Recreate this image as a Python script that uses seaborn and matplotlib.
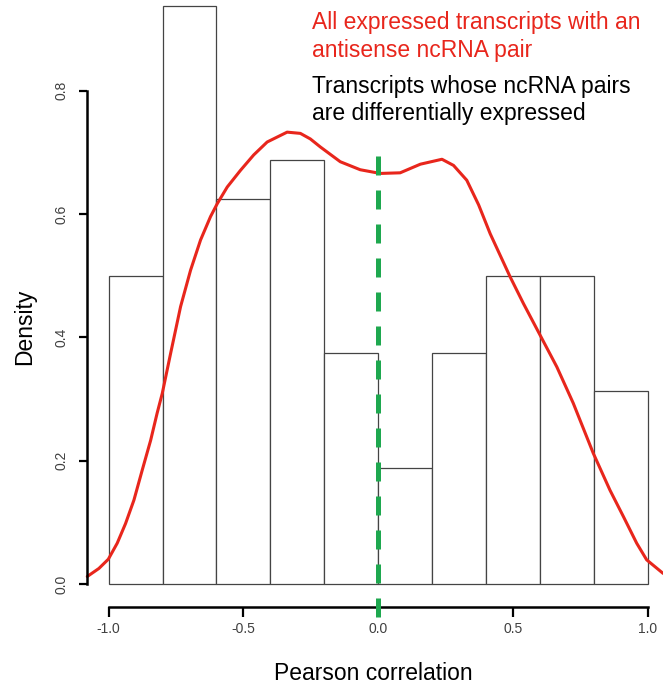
import matplotlib
matplotlib.use("Agg")
import matplotlib.pyplot as plt
import seaborn as sns
import numpy as np

# ---- data ----
bin_edges = [-1.0, -0.8, -0.6, -0.4, -0.2, 0.0, 0.2, 0.4, 0.6, 0.8, 1.0]
bar_density = [0.5, 0.9375, 0.625, 0.6875, 0.375, 0.1875, 0.375, 0.5, 0.5, 0.3125]

curve_x = [-1.079, -1.036, -1.001, -0.968, -0.937, -0.906, -0.875, -0.844, -0.820,
           -0.801, -0.770, -0.733, -0.696, -0.659, -0.622, -0.597, -0.560, -0.511,
           -0.462, -0.412, -0.338, -0.289, -0.252, -0.215, -0.141, -0.067, 0.007,
           0.081, 0.156, 0.236, 0.279, 0.328, 0.372, 0.415, 0.489, 0.538,
           0.597, 0.662, 0.723, 0.797, 0.859, 0.909, 0.958, 0.995, 1.056]
curve_y = [0.012, 0.025, 0.040, 0.066, 0.098, 0.136, 0.185, 0.233, 0.277,
           0.309, 0.374, 0.450, 0.509, 0.558, 0.596, 0.617, 0.644, 0.671,
           0.696, 0.717, 0.733, 0.731, 0.722, 0.709, 0.685, 0.672, 0.666,
           0.667, 0.681, 0.689, 0.679, 0.655, 0.615, 0.568, 0.498, 0.455,
           0.406, 0.352, 0.293, 0.212, 0.152, 0.109, 0.066, 0.039, 0.017]

ref_x = 0.0
ref_y = [-0.054, 0.704]

x_ticks = [-1.0, -0.5, 0.0, 0.5, 1.0]
y_ticks = [0.0, 0.2, 0.4, 0.6, 0.8]
legend_red = ["All expressed transcripts with an", "antisense ncRNA pair"]
legend_black = ["Transcripts whose ncRNA pairs", "are differentially expressed"]
x_label = "Pearson correlation"
y_label = "Density"

# ---- style ----
sns.set_style("white")
plt.rcParams["font.family"] = ["Liberation Sans", "DejaVu Sans"]
plt.rcParams["axes.unicode_minus"] = False

W, H = 663, 684
fig = plt.figure(figsize=(W / 100, H / 100), dpi=100)
ax = fig.add_axes([87 / W, 77 / H, 582.6 / W, 624 / H])

centers = [(bin_edges[i] + bin_edges[i + 1]) / 2 for i in range(len(bar_density))]
sns.histplot(x=centers, weights=bar_density, bins=bin_edges, stat="count",
             color="white", edgecolor="#444444", linewidth=0.9, alpha=1,
             ax=ax)

sns.lineplot(x=curve_x, y=curve_y, sort=False, color="#e8261c",
             linewidth=2.2, ax=ax, clip_on=False)
ax.lines[-1].set_solid_joinstyle("round")
ax.lines[-1].set_solid_capstyle("round")

ln, = ax.plot([ref_x, ref_x], ref_y, color="#1ea84f", linewidth=3.6,
              clip_on=False, zorder=5)
ln.set_dashes((3.8, 3.0))

ax.set_xlim(-1.08, 1.08)
ax.set_ylim(-0.0375, 0.975)

for s in ["top", "right"]:
    ax.spines[s].set_visible(False)
ax.spines["left"].set_bounds(0, 0.8)
ax.spines["bottom"].set_bounds(-1, 1)
for s in ["left", "bottom"]:
    ax.spines[s].set_color("black")
    ax.spines[s].set_linewidth(1.8)

ax.set_xticks(x_ticks)
ax.set_xticklabels([f"{v:.1f}" for v in x_ticks])
ax.set_yticks(y_ticks)
ax.set_yticklabels([f"{v:.1f}" for v in y_ticks], rotation=90, va="center")
ax.tick_params(axis="x", direction="out", length=7, width=1.6, color="black",
               labelsize=10, labelcolor="#404040", pad=4, bottom=True)
ax.tick_params(axis="y", direction="out", length=6, width=1.6, color="black",
               labelsize=10, labelcolor="#404040", pad=7, left=True)
ax.set_xlabel("")
ax.set_ylabel("")
ax.grid(False)

fig.text(373 / W, 1 - 674 / H, x_label, ha="center", va="center",
         fontsize=16.5, color="black")
fig.text(25 / W, 1 - 327 / H, y_label, ha="center", va="center",
         rotation=90, fontsize=16.5, color="black")

fig.text(312 / W, 1 - 29 / H, legend_red[0], ha="left", va="baseline",
         fontsize=16.5, color="#e8261c")
fig.text(312 / W, 1 - 57 / H, legend_red[1], ha="left", va="baseline",
         fontsize=16.5, color="#e8261c")
fig.text(312 / W, 1 - 93 / H, legend_black[0], ha="left", va="baseline",
         fontsize=16.5, color="black")
fig.text(312 / W, 1 - 120 / H, legend_black[1], ha="left", va="baseline",
         fontsize=16.5, color="black")

fig.savefig("out.png", dpi=100)
